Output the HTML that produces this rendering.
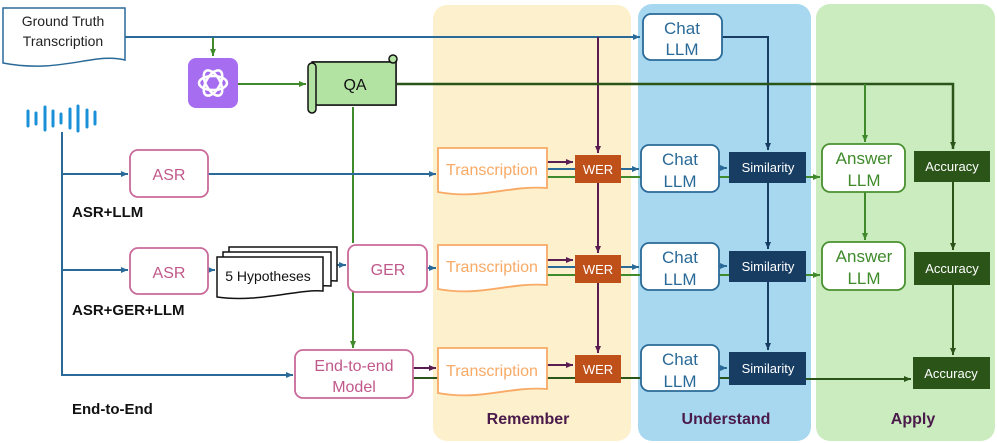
<!DOCTYPE html>
<html><head><meta charset="utf-8"><style>
html,body{margin:0;padding:0;background:#fff;}
svg{display:block;font-family:"Liberation Sans",sans-serif;}
</style></head><body>
<svg width="997" height="443" viewBox="0 0 997 443" xmlns="http://www.w3.org/2000/svg">
<defs>
<marker id="ab" markerWidth="8" markerHeight="8" refX="7" refY="4" orient="auto" markerUnits="userSpaceOnUse"><path d="M0,1 L7,4 L0,7z" fill="#2a6a98"/></marker>
<marker id="ag" markerWidth="8" markerHeight="8" refX="7" refY="4" orient="auto" markerUnits="userSpaceOnUse"><path d="M0,1 L7,4 L0,7z" fill="#3f8a2a"/></marker>
<marker id="ap" markerWidth="8" markerHeight="8" refX="7" refY="4" orient="auto" markerUnits="userSpaceOnUse"><path d="M0,1 L7,4 L0,7z" fill="#5a1d52"/></marker>
<marker id="an" markerWidth="8" markerHeight="8" refX="7" refY="4" orient="auto" markerUnits="userSpaceOnUse"><path d="M0,1 L7,4 L0,7z" fill="#173d63"/></marker>
<marker id="ad" markerWidth="8" markerHeight="8" refX="7" refY="4" orient="auto" markerUnits="userSpaceOnUse"><path d="M0,1 L7,4 L0,7z" fill="#2a5418"/></marker>
</defs>
<rect x="433" y="5" width="198" height="436" rx="14" fill="#fdf0cc"/>
<rect x="638" y="4" width="173" height="437" rx="14" fill="#a8d8f0"/>
<rect x="816" y="4" width="179" height="437" rx="14" fill="#cbecbf"/>
<text x="528" y="424" font-size="16" font-weight="bold" fill="#4a1a4a" text-anchor="middle">Remember</text>
<text x="726" y="424" font-size="16" font-weight="bold" fill="#4a1a4a" text-anchor="middle">Understand</text>
<text x="913" y="424" font-size="16" font-weight="bold" fill="#4a1a4a" text-anchor="middle">Apply</text>

<g fill="none" stroke-width="2">
<path d="M125,37 H640" stroke="#2a6a98" marker-end="url(#ab)"/>
<path d="M722,37 H768 V150" stroke="#173d63" marker-end="url(#an)"/>
<path d="M598,37 V153" stroke="#5a1d52" marker-end="url(#ap)"/>
<path d="M598,183 V253" stroke="#5a1d52" marker-end="url(#ap)"/>
<path d="M598,283 V353" stroke="#5a1d52" marker-end="url(#ap)"/>
<path d="M213,38 V56" stroke="#3f8a2a" marker-end="url(#ag)"/>
<path d="M238,84 H306" stroke="#3f8a2a" marker-end="url(#ag)"/>
<path d="M397,84 H953 V149" stroke="#2a5418" stroke-width="2.5" marker-end="url(#ad)"/>
<path d="M865,84 V142" stroke="#3f8a2a" marker-end="url(#ag)"/>
<path d="M865,192 V240" stroke="#3f8a2a" marker-end="url(#ag)"/>
<path d="M953,182 V250" stroke="#2a5418" marker-end="url(#ad)"/>
<path d="M953,285 V355" stroke="#2a5418" marker-end="url(#ad)"/>
<path d="M768,183 V249" stroke="#173d63" marker-end="url(#an)"/>
<path d="M768,282 V350" stroke="#173d63" marker-end="url(#an)"/>
<path d="M353,107 V243" stroke="#3f8a2a"/>
<path d="M353,292 V348" stroke="#3f8a2a" marker-end="url(#ag)"/>
<path d="M62,132 V375 H293" stroke="#2a6a98" marker-end="url(#ab)"/>
<path d="M62,174 H128" stroke="#2a6a98" marker-end="url(#ab)"/>
<path d="M62,270 H128" stroke="#2a6a98" marker-end="url(#ab)"/>
<path d="M208,174 H436" stroke="#2a6a98" marker-end="url(#ab)"/>
<path d="M208,270 H215" stroke="#2a6a98" marker-end="url(#ab)"/>
<path d="M325,265 H346" stroke="#2a6a98" marker-end="url(#ab)"/>
<path d="M427,268 H436" stroke="#2a6a98" marker-end="url(#ab)"/>
<path d="M547,162 H573" stroke="#5a1d52" marker-end="url(#ap)"/>
<path d="M547,169 H575 M621,169 H639" stroke="#2a6a98" marker-end="url(#ab)"/>
<path d="M547,177 H641" stroke="#3f8a2a"/>
<path d="M719,168 H727" stroke="#2a6a98" marker-end="url(#ab)"/>
<path d="M719,177 H729 M806,177 H820" stroke="#3f8a2a" marker-end="url(#ag)"/>
<path d="M547,260 H573" stroke="#5a1d52" marker-end="url(#ap)"/>
<path d="M547,267 H575 M621,267 H639" stroke="#2a6a98" marker-end="url(#ab)"/>
<path d="M547,275 H641" stroke="#3f8a2a"/>
<path d="M719,266 H727" stroke="#2a6a98" marker-end="url(#ab)"/>
<path d="M719,275 H729 M806,275 H820" stroke="#3f8a2a" marker-end="url(#ag)"/>
<path d="M413,368 H436" stroke="#5a1d52" marker-end="url(#ap)"/>
<path d="M413,378 H438 M547,378 H575" stroke="#2a5418"/>
<path d="M547,365 H573" stroke="#5a1d52" marker-end="url(#ap)"/>
<path d="M621,378 H641 M719,378 H729" stroke="#2a5418"/>
<path d="M719,368 H727" stroke="#2a6a98" marker-end="url(#ab)"/>
<path d="M806,379 H911" stroke="#2a5418" marker-end="url(#ad)"/>
</g>

<path d="M3,8 H125 V60 C95,52 60,74 3,63 Z" fill="#fff" stroke="#2a6a98" stroke-width="1.5"/>
<text x="63" y="26" font-size="14" text-anchor="middle" fill="#222">Ground Truth</text>
<text x="63" y="46" font-size="14" text-anchor="middle" fill="#222">Transcription</text>

<rect x="188" y="58" width="50" height="50" rx="8" fill="#a66df0"/>
<g fill="none" stroke="#fff" stroke-width="2.5">
<ellipse cx="213" cy="83" rx="14" ry="7"/>
<ellipse cx="213" cy="83" rx="14" ry="7" transform="rotate(60 213 83)"/>
<ellipse cx="213" cy="83" rx="14" ry="7" transform="rotate(120 213 83)"/>
</g>

<path d="M312,62 H392 V58 a4,4 0 0 1 4,4 V105 H316" fill="#b3e3a3" stroke="#111" stroke-width="1.5"/>
<rect x="312" y="62" width="84" height="43" fill="#b3e3a3" stroke="#111" stroke-width="1.5"/>
<rect x="308" y="63" width="8" height="50" rx="4" fill="#b3e3a3" stroke="#111" stroke-width="1.5"/>
<circle cx="393" cy="59" r="4" fill="#b3e3a3" stroke="#111" stroke-width="1.5"/>
<text x="355" y="90" font-size="16" text-anchor="middle" fill="#111">QA</text>

<g stroke="#1a90d8" stroke-width="3" stroke-linecap="round">
<line x1="28" y1="111" x2="28" y2="126"/><line x1="36" y1="113" x2="36" y2="124"/>
<line x1="45" y1="107" x2="45" y2="130"/><line x1="53" y1="111" x2="53" y2="126"/>
<line x1="61" y1="114" x2="61" y2="123"/><line x1="70" y1="109" x2="70" y2="128"/>
<line x1="78" y1="106" x2="78" y2="131"/><line x1="87" y1="110" x2="87" y2="127"/>
<line x1="95" y1="112" x2="95" y2="124"/>
</g>

<g font-size="16" text-anchor="middle">
<g fill="#fff" stroke="#c96a9a" stroke-width="1.8">
<rect x="130" y="150" width="78" height="47" rx="8"/>
<rect x="130" y="248" width="78" height="46" rx="8"/>
<rect x="348" y="245" width="79" height="47" rx="8"/>
<rect x="295" y="350" width="118" height="48" rx="8"/>
</g>
<text x="169" y="180" fill="#c0588a">ASR</text>
<text x="169" y="278" fill="#c0588a">ASR</text>
<text x="388" y="275" fill="#c0588a">GER</text>
<text x="354" y="371" fill="#c0588a">End-to-end</text>
<text x="354" y="392" fill="#c0588a">Model</text>

<g fill="#fff" stroke="#111" stroke-width="1.5">
<path d="M229,247 H337 V281 C310,279 270,293 229,287 Z"/>
<path d="M223,252 H331 V286 C304,284 264,298 223,292 Z"/>
<path d="M217,257 H323 V291 C297,289 258,303 217,297 Z"/>
</g>
<text x="268" y="281" font-size="14" fill="#111">5 Hypotheses</text>

<g fill="#fff" stroke="#f8aa66" stroke-width="1.8">
<path d="M438,148 H547 V188 C510,185 480,200 438,192 Z"/>
<path d="M438,245 H547 V285 C510,282 480,297 438,289 Z"/>
<path d="M438,348 H547 V389 C510,386 480,401 438,393 Z"/>
</g>
<text x="492" y="175" fill="#f8aa66">Transcription</text>
<text x="492" y="272" fill="#f8aa66">Transcription</text>
<text x="492" y="376" fill="#f8aa66">Transcription</text>

<g fill="#c0501a"><rect x="575" y="155" width="46" height="28"/><rect x="575" y="255" width="46" height="28"/><rect x="575" y="355" width="46" height="28"/></g>
<g font-size="13" fill="#fff"><text x="598" y="174">WER</text><text x="598" y="274">WER</text><text x="598" y="374">WER</text></g>

<g fill="#fff" stroke="#2a6a98" stroke-width="1.8">
<rect x="643" y="14" width="79" height="46" rx="8"/>
<rect x="641" y="145" width="78" height="47" rx="8"/>
<rect x="641" y="243" width="78" height="47" rx="8"/>
<rect x="641" y="345" width="78" height="46" rx="8"/>
</g>
<g fill="#2a6a98" font-size="17">
<text x="682" y="34">Chat</text><text x="682" y="55">LLM</text>
<text x="680" y="165">Chat</text><text x="680" y="187">LLM</text>
<text x="680" y="263">Chat</text><text x="680" y="285">LLM</text>
<text x="680" y="365">Chat</text><text x="680" y="387">LLM</text>
</g>

<g fill="#173d63"><rect x="729" y="152" width="77" height="31"/><rect x="729" y="251" width="77" height="31"/><rect x="729" y="352" width="77" height="33"/></g>
<g font-size="13" fill="#fff"><text x="768" y="172">Similarity</text><text x="768" y="271">Similarity</text><text x="768" y="373">Similarity</text></g>

<g fill="#fff" stroke="#4a9030" stroke-width="1.8">
<rect x="822" y="144" width="83" height="48" rx="8"/>
<rect x="822" y="242" width="83" height="48" rx="8"/>
</g>
<g fill="#3f8a2a" font-size="17">
<text x="864" y="164">Answer</text><text x="864" y="186">LLM</text>
<text x="864" y="262">Answer</text><text x="864" y="284">LLM</text>
</g>

<g fill="#2a5418"><rect x="914" y="151" width="76" height="31"/><rect x="914" y="252" width="76" height="33"/><rect x="913" y="357" width="77" height="32"/></g>
<g font-size="13" fill="#fff"><text x="952" y="171">Accuracy</text><text x="952" y="273">Accuracy</text><text x="951" y="378">Accuracy</text></g>
</g>

<g font-size="15" font-weight="bold" fill="#111">
<text x="72" y="217">ASR+LLM</text>
<text x="72" y="315">ASR+GER+LLM</text>
<text x="72" y="414">End-to-End</text>
</g>
</svg>
</body></html>
